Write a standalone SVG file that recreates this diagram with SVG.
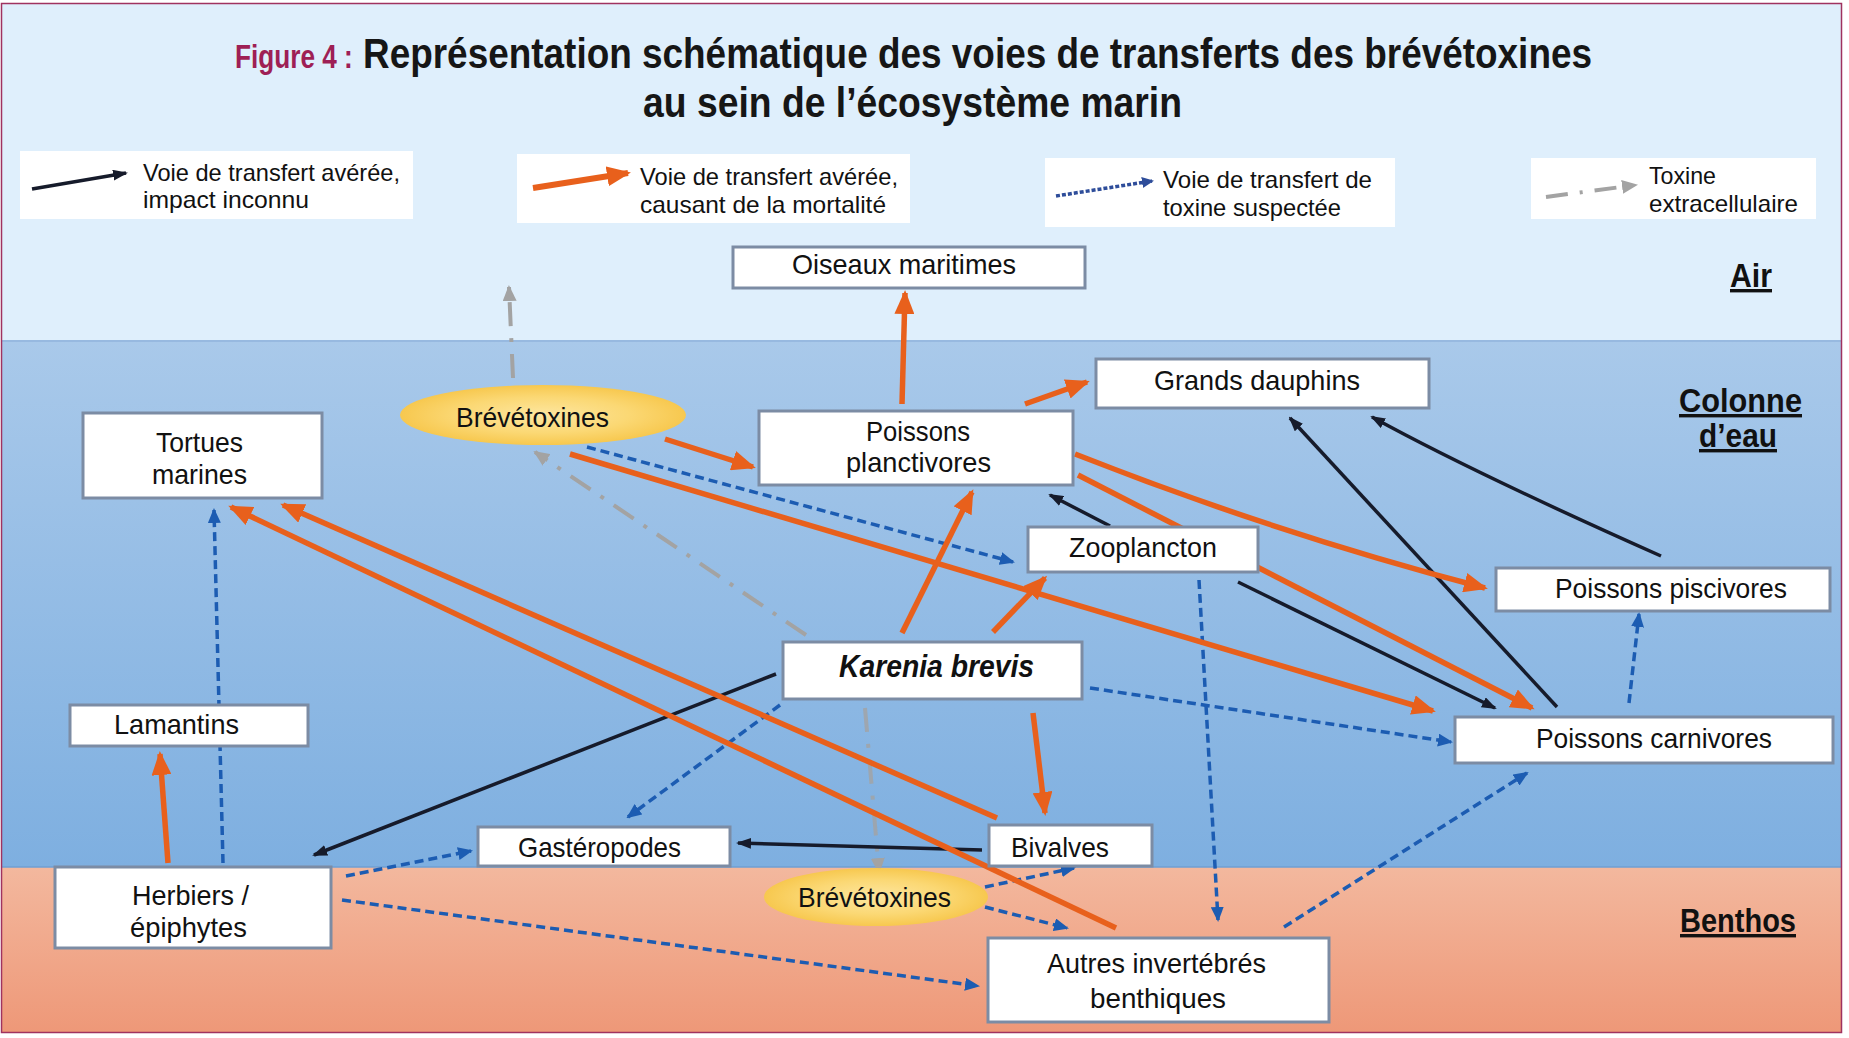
<svg xmlns="http://www.w3.org/2000/svg" width="1849" height="1038" viewBox="0 0 1849 1038">
<defs>
<linearGradient id="gWater" x1="0" y1="0" x2="0" y2="1">
<stop offset="0" stop-color="#a9c9ea"/><stop offset="1" stop-color="#7eafe0"/>
</linearGradient>
<linearGradient id="gBenthos" x1="0" y1="0" x2="0" y2="1">
<stop offset="0" stop-color="#f3b89e"/><stop offset="1" stop-color="#ee9878"/>
</linearGradient>
<radialGradient id="gEll" cx="0.5" cy="0.5" r="0.5">
<stop offset="0" stop-color="#fde6a0"/><stop offset="0.6" stop-color="#fbd874"/><stop offset="1" stop-color="#f7c84f"/>
</radialGradient>
<marker id="ao" markerUnits="userSpaceOnUse" viewBox="0 0 24 20" markerWidth="24" markerHeight="20" refX="21" refY="10" orient="auto"><path d="M0,0 L24,10 L0,20 z" fill="#e8601c"/></marker>
<marker id="ak" markerUnits="userSpaceOnUse" viewBox="0 0 15 11" markerWidth="15" markerHeight="11" refX="13" refY="5.5" orient="auto"><path d="M0,0 L15,5.5 L0,11 z" fill="#161b2b"/></marker>
<marker id="ab" markerUnits="userSpaceOnUse" viewBox="0 0 15 13" markerWidth="15" markerHeight="13" refX="13" refY="6.5" orient="auto"><path d="M0,0 L15,6.5 L0,13 z" fill="#1c5cb2"/></marker>
<marker id="abl" markerUnits="userSpaceOnUse" viewBox="0 0 12 11" markerWidth="12" markerHeight="11" refX="10" refY="5.5" orient="auto"><path d="M0,0 L12,5.5 L0,11 z" fill="#2e4d9a"/></marker>
<marker id="ag" markerUnits="userSpaceOnUse" viewBox="0 0 16 14" markerWidth="16" markerHeight="14" refX="14" refY="7" orient="auto"><path d="M0,0 L16,7 L0,14 z" fill="#a3a3a3"/></marker>
<style>
.box{fill:#ffffff;stroke:#7c8ca4;stroke-width:3}
.leg{fill:#ffffff}
.ell{fill:url(#gEll)}
.t{font-family:"Liberation Sans Narrow","Liberation Sans",Arial,sans-serif;font-size:28px;fill:#111111}
.lt{font-family:"Liberation Sans Narrow","Liberation Sans",Arial,sans-serif;font-size:24px;fill:#111111}
.kb{font-family:"Liberation Sans Narrow","Liberation Sans",Arial,sans-serif;font-size:31px;font-weight:bold;font-style:italic;fill:#111111}
.zone{font-family:"Liberation Sans Narrow","Liberation Sans",Arial,sans-serif;font-size:34px;font-weight:bold;fill:#111111;text-decoration:underline}
.ttl{font-family:"Liberation Sans Narrow","Liberation Sans",Arial,sans-serif;font-size:42px;font-weight:bold;fill:#161616}
.fig{font-family:"Liberation Sans Narrow","Liberation Sans",Arial,sans-serif;font-size:34px;font-weight:bold;fill:#9e1f55}
.or{fill:none;stroke:#e8601c;stroke-width:5.5;marker-end:url(#ao)}
.bk{fill:none;stroke:#161b2b;stroke-width:3.5;marker-end:url(#ak)}
.bl{fill:none;stroke:#1c5cb2;stroke-width:3.5;stroke-dasharray:9 5;marker-end:url(#ab)}
.gr{fill:none;stroke:#a3a3a3;stroke-width:4;stroke-dasharray:24 12 4 12;marker-end:url(#ag)}
</style>
</defs>

<g id="background">
<rect x="0" y="0" width="1849" height="1038" fill="#ffffff"/>
<rect x="2" y="4" width="1839" height="337" fill="#dfeffc"/>
<rect x="2" y="341" width="1839" height="526" fill="url(#gWater)"/>
<rect x="2" y="867" width="1839" height="165" fill="url(#gBenthos)"/>
<line x1="2" y1="341" x2="1841" y2="341" stroke="#97b9e0" stroke-width="2"/>
<line x1="2" y1="867" x2="1841" y2="867" stroke="#6f9fd3" stroke-width="1.5"/>
<rect x="1.5" y="3.5" width="1840" height="1029" fill="none" stroke="#a0325f" stroke-width="1.5"/>
</g>

<g id="title">
<text class="fig" transform="translate(235,68) scale(0.77,1)" x="0" y="0">Figure 4 :</text>
<text class="ttl" x="363" y="68" textLength="1229" lengthAdjust="spacingAndGlyphs">Représentation schématique des voies de transferts des brévétoxines</text>
<text class="ttl" x="643" y="117" textLength="539" lengthAdjust="spacingAndGlyphs">au sein de l’écosystème marin</text>
</g>

<g id="legend">
<g id="legend-black">
<rect class="leg" x="20" y="151" width="393" height="68"/>
<line x1="32" y1="189" x2="126" y2="173" stroke="#161b2b" stroke-width="3.5" marker-end="url(#ak)"/>
<text class="lt" x="143" y="181" textLength="257" lengthAdjust="spacingAndGlyphs">Voie de transfert avérée,</text>
<text class="lt" x="143" y="208" textLength="166" lengthAdjust="spacingAndGlyphs">impact inconnu</text>
</g>
<g id="legend-orange">
<rect class="leg" x="517" y="154" width="393" height="69"/>
<line x1="533" y1="188" x2="628" y2="173" stroke="#e8601c" stroke-width="6" marker-end="url(#ao)"/>
<text class="lt" x="640" y="185" textLength="258" lengthAdjust="spacingAndGlyphs">Voie de transfert avérée,</text>
<text class="lt" x="640" y="213" textLength="246" lengthAdjust="spacingAndGlyphs">causant de la mortalité</text>
</g>
<g id="legend-blue">
<rect class="leg" x="1045" y="158" width="350" height="69"/>
<line x1="1056" y1="196" x2="1152" y2="181" stroke="#2e4d9a" stroke-width="3.5" stroke-dasharray="4 2" marker-end="url(#abl)"/>
<text class="lt" x="1163" y="188" textLength="209" lengthAdjust="spacingAndGlyphs">Voie de transfert de</text>
<text class="lt" x="1163" y="216" textLength="178" lengthAdjust="spacingAndGlyphs">toxine suspectée</text>
</g>
<g id="legend-gray">
<rect class="leg" x="1531" y="158" width="285" height="61"/>
<line x1="1546" y1="197" x2="1636" y2="185" stroke="#a3a3a3" stroke-width="4" stroke-dasharray="22 12 3 12" marker-end="url(#ag)"/>
<text class="lt" x="1649" y="184" textLength="67" lengthAdjust="spacingAndGlyphs">Toxine</text>
<text class="lt" x="1649" y="212" textLength="149" lengthAdjust="spacingAndGlyphs">extracellulaire</text>
</g>
</g>

<g id="zones">
<text class="zone" x="1730" y="287" textLength="42" lengthAdjust="spacingAndGlyphs">Air</text>
<text class="zone" x="1679" y="412" textLength="123" lengthAdjust="spacingAndGlyphs">Colonne</text>
<text class="zone" x="1699" y="447" textLength="78" lengthAdjust="spacingAndGlyphs">d’eau</text>
<text class="zone" x="1680" y="932" textLength="116" lengthAdjust="spacingAndGlyphs">Benthos</text>
</g>

<g id="connectors">
<!-- gray: extracellular toxin -->
<line class="gr" x1="513" y1="378" x2="509" y2="287"/>
<line class="gr" x1="806" y1="635" x2="535" y2="452"/>
<line class="gr" x1="865" y1="708" x2="879" y2="872" stroke-opacity="0.8"/>
<!-- blue dashed: suspected -->
<line class="bl" x1="223" y1="863" x2="214" y2="510"/>
<line class="bl" x1="587" y1="447" x2="1013" y2="562"/>
<line class="bl" x1="1090" y1="688" x2="1451" y2="742"/>
<line class="bl" x1="1199" y1="580" x2="1218" y2="920"/>
<line class="bl" x1="1629" y1="703" x2="1639" y2="614"/>
<line class="bl" x1="1284" y1="927" x2="1527" y2="773"/>
<line class="bl" x1="780" y1="705" x2="628" y2="817"/>
<line class="bl" x1="346" y1="876" x2="471" y2="851"/>
<line class="bl" x1="342" y1="900" x2="978" y2="986"/>
<line class="bl" x1="985" y1="887" x2="1074" y2="868"/>
<line class="bl" x1="985" y1="907" x2="1067" y2="928"/>
<!-- black: known, unknown impact -->
<line class="bk" x1="1110" y1="526" x2="1050" y2="495"/>
<line class="bk" x1="1238" y1="582" x2="1495" y2="708"/>
<line class="bk" x1="1557" y1="707" x2="1290" y2="418"/>
<path class="bk" d="M1661,556 Q1472,472 1372,417"/>
<line class="bk" x1="776" y1="674" x2="314" y2="855"/>
<line class="bk" x1="982" y1="850" x2="738" y2="843"/>
<!-- orange: known, causing mortality -->
<line class="or" x1="902" y1="404" x2="905" y2="293"/>
<line class="or" x1="1025" y1="404" x2="1087" y2="382"/>
<line class="or" x1="665" y1="439" x2="753" y2="467"/>
<line class="or" x1="570" y1="454" x2="1433" y2="711"/>
<path class="or" d="M1075,454 Q1275,533 1485,588"/>
<line class="or" x1="1078" y1="475" x2="1532" y2="708"/>
<line class="or" x1="902" y1="633" x2="972" y2="492"/>
<line class="or" x1="993" y1="632" x2="1045" y2="578"/>
<line class="or" x1="1033" y1="713" x2="1045" y2="813"/>
<line class="or" x1="168" y1="863" x2="160" y2="754"/>
<line class="or" x1="997" y1="818" x2="283" y2="505"/>
<line class="or" x1="1116" y1="928" x2="231" y2="507"/>
</g>

<g id="oiseaux-maritimes">
<rect class="box" x="733" y="247" width="352" height="41"/>
<text class="t" x="792" y="274" textLength="224" lengthAdjust="spacingAndGlyphs">Oiseaux maritimes</text>
</g>
<g id="grands-dauphins">
<rect class="box" x="1096" y="359" width="333" height="49"/>
<text class="t" x="1154" y="390" textLength="206" lengthAdjust="spacingAndGlyphs">Grands dauphins</text>
</g>
<g id="tortues-marines">
<rect class="box" x="83" y="413" width="239" height="85"/>
<text class="t" x="156" y="452" textLength="87" lengthAdjust="spacingAndGlyphs">Tortues</text>
<text class="t" x="152" y="484" textLength="95" lengthAdjust="spacingAndGlyphs">marines</text>
</g>
<g id="brevetoxines-eau">
<ellipse class="ell" cx="543" cy="415" rx="143" ry="30"/>
<text class="t" x="456" y="427" textLength="153" lengthAdjust="spacingAndGlyphs">Brévétoxines</text>
</g>
<g id="poissons-planctivores">
<rect class="box" x="759" y="411" width="314" height="74"/>
<text class="t" x="866" y="441" textLength="104" lengthAdjust="spacingAndGlyphs">Poissons</text>
<text class="t" x="846" y="472" textLength="145" lengthAdjust="spacingAndGlyphs">planctivores</text>
</g>
<g id="zooplancton">
<rect class="box" x="1028" y="527" width="230" height="45"/>
<text class="t" x="1069" y="557" textLength="148" lengthAdjust="spacingAndGlyphs">Zooplancton</text>
</g>
<g id="poissons-piscivores">
<rect class="box" x="1496" y="568" width="334" height="43"/>
<text class="t" x="1555" y="598" textLength="232" lengthAdjust="spacingAndGlyphs">Poissons piscivores</text>
</g>
<g id="karenia-brevis">
<rect class="box" x="783" y="642" width="299" height="57"/>
<text class="kb" x="839" y="677" textLength="195" lengthAdjust="spacingAndGlyphs">Karenia brevis</text>
</g>
<g id="lamantins">
<rect class="box" x="70" y="705" width="238" height="41"/>
<text class="t" x="114" y="734" textLength="125" lengthAdjust="spacingAndGlyphs">Lamantins</text>
</g>
<g id="poissons-carnivores">
<rect class="box" x="1455" y="717" width="378" height="46"/>
<text class="t" x="1536" y="748" textLength="236" lengthAdjust="spacingAndGlyphs">Poissons carnivores</text>
</g>
<g id="gasteropodes">
<rect class="box" x="478" y="827" width="252" height="39"/>
<text class="t" x="518" y="857" textLength="163" lengthAdjust="spacingAndGlyphs">Gastéropodes</text>
</g>
<g id="bivalves">
<rect class="box" x="989" y="825" width="163" height="41"/>
<text class="t" x="1011" y="857" textLength="98" lengthAdjust="spacingAndGlyphs">Bivalves</text>
</g>
<g id="brevetoxines-benthos">
<ellipse class="ell" cx="876" cy="897" rx="112" ry="29"/>
<text class="t" x="798" y="907" textLength="153" lengthAdjust="spacingAndGlyphs">Brévétoxines</text>
</g>
<g id="herbiers-epiphytes">
<rect class="box" x="55" y="867" width="276" height="81"/>
<text class="t" x="132" y="905" textLength="117" lengthAdjust="spacingAndGlyphs">Herbiers /</text>
<text class="t" x="130" y="937" textLength="117" lengthAdjust="spacingAndGlyphs">épiphytes</text>
</g>
<g id="autres-invertebres">
<rect class="box" x="988" y="938" width="341" height="84"/>
<text class="t" x="1047" y="973" textLength="219" lengthAdjust="spacingAndGlyphs">Autres invertébrés</text>
<text class="t" x="1090" y="1008" textLength="136" lengthAdjust="spacingAndGlyphs">benthiques</text>
</g>
</svg>
